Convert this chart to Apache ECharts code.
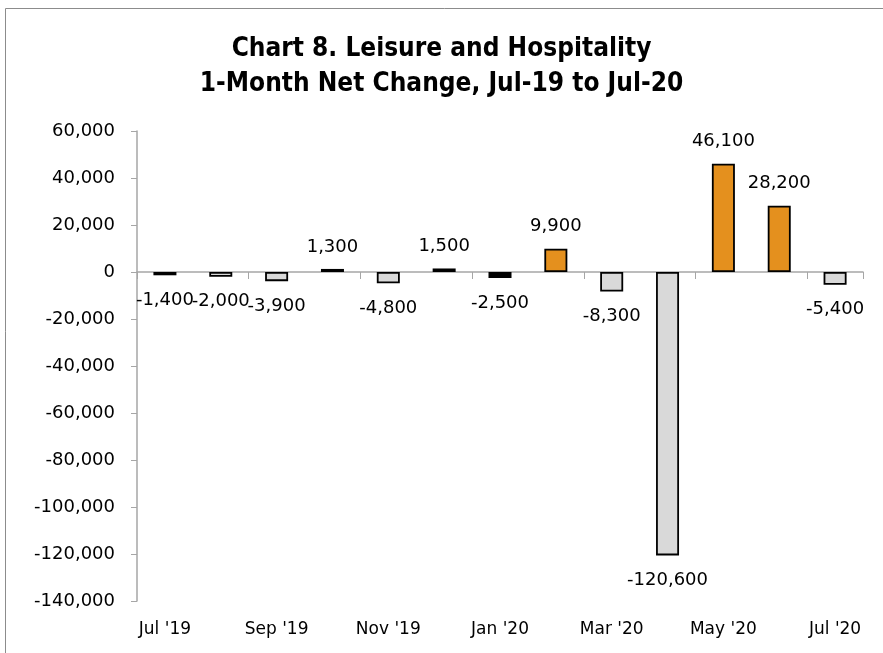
<!DOCTYPE html>
<html><head><meta charset="utf-8">
<script src="https://cdn.jsdelivr.net/npm/echarts@6/dist/echarts.min.js"></script>
<style>html,body{margin:0;padding:0;background:#fff}#c{width:883px;height:653px}</style>
</head><body><div id="c"></div>
<script>
const categories = ["Jul '19","Aug '19","Sep '19","Oct '19","Nov '19","Dec '19","Jan '20","Feb '20","Mar '20","Apr '20","May '20","Jun '20","Jul '20"];
const values = [-1400,-2000,-3900,1300,-4800,1500,-2500,9900,-8300,-120600,46100,28200,-5400];
const yTicks = {min:-140000, max:60000, interval:20000};
const titleLines = ["Chart 8. Leisure and Hospitality","1-Month Net Change, Jul-19 to Jul-20"];

const FONT = "'DejaVu Sans', sans-serif";
const fmt = v => v.toLocaleString('en-US');
const ORANGE = '#E4901E', GRAY = '#D9D9D9';

const chart = echarts.init(document.getElementById('c'));
chart.setOption({
  animation:false,
  title:{text:titleLines.join('\n'), left:'center', top:27,
    textStyle:{fontFamily:"'Liberation Sans Narrow','DejaVu Sans Condensed',sans-serif", fontWeight:'bold', fontSize:26, lineHeight:35, color:'#000'}},
  graphic:[{type:'rect', shape:{x:5.5,y:8.5,width:900,height:700}, style:{fill:'none', stroke:'#8c8c8c', lineWidth:1}, z:-1}],
  grid:{left:137, right:20, top:131, bottom:52},
  xAxis:[
    {type:'category', data:categories, position:'bottom',
     axisLine:{onZero:true, lineStyle:{color:'#a6a6a6', width:1.5}},
     axisTick:{show:true, interval:1, length:7, lineStyle:{color:'#a6a6a6'}},
     axisLabel:{show:false}},
    {type:'category', data:categories, position:'bottom',
     axisLine:{show:false}, axisTick:{show:false},
     axisLabel:{show:true, interval:1, margin:20, fontFamily:FONT, fontSize:17, color:'#000'}}
  ],
  yAxis:{type:'value', min:yTicks.min, max:yTicks.max, interval:yTicks.interval,
    axisLine:{show:true, lineStyle:{color:'#a6a6a6', width:1.5}},
    axisTick:{show:true, length:6, lineStyle:{color:'#a6a6a6'}},
    splitLine:{show:false},
    axisLabel:{formatter:v=>fmt(v), margin:22, fontFamily:FONT, fontSize:18, color:'#000'}},
  series:[{type:'bar', xAxisIndex:0, barWidth:23,
    data: values.map((v,i)=>({value:v,
      itemStyle:{color: i===6 ? '#000' : (v>=0?ORANGE:GRAY), borderColor:'#000', borderWidth:1.8},
      label:{position: v>=0?'top':'bottom', distance: v>=0?13:16}})),
    label:{show:true, fontFamily:FONT, fontSize:18, color:'#000', formatter:p=>fmt(p.value)}
  }]
});
</script></body></html>
